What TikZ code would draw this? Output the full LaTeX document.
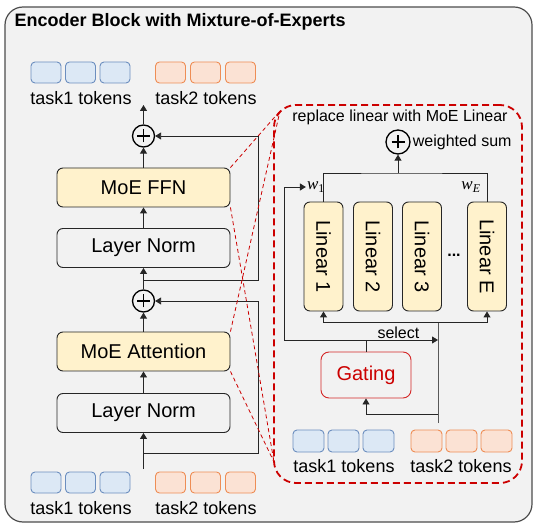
\RequirePackage{fix-cm}
\documentclass[tikz,border=0pt]{standalone}
\usepackage{fontspec}
\usepackage{graphicx}
\setmainfont{Liberation Sans}
\newfontfamily\weightfont{Liberation Serif}
\usetikzlibrary{arrows.meta,calc}

\definecolor{bgGray}{HTML}{F2F2F2}
\definecolor{frameGray}{HTML}{4D4D4D}
\definecolor{moeYellow}{HTML}{FFF2CC}
\definecolor{tokBlueFill}{HTML}{DCE8F5}
\definecolor{tokBlueLine}{HTML}{6C8EBF}
\definecolor{tokOrangeFill}{HTML}{FBE2D4}
\definecolor{tokOrangeLine}{HTML}{EE8D55}
\definecolor{moeRed}{HTML}{CC0000}

\begin{document}
\begin{tikzpicture}[
  x=1pt, y=-1pt,
  every node/.style={font=\fontsize{18}{21}\selectfont},
  block/.style={draw=black!85, rounded corners=6pt, line width=0.9pt, minimum width=173pt, minimum height=39pt, font=\fontsize{20}{24}\selectfont},
  moe/.style={block, fill=moeYellow},
  norm/.style={block, fill=bgGray},
  expert/.style={draw=black!85, fill=moeYellow, rounded corners=6pt, line width=0.9pt, minimum width=39pt, minimum height=109pt, inner sep=0pt, font=\fontsize{20}{24}\selectfont},
  gate/.style={draw=moeRed!85, text=moeRed, rounded corners=8pt, line width=0.9pt, minimum width=90pt, minimum height=46pt, font=\fontsize{20}{24}\selectfont},
  tokA/.style={draw=tokBlueLine, fill=tokBlueFill, rounded corners=4pt, line width=0.9pt, minimum width=30pt, minimum height=21pt, inner sep=0pt},
  tokB/.style={tokA, draw=tokOrangeLine, fill=tokOrangeFill},
  oplus/.style={circle, draw, line width=1.3pt, minimum size=22pt, inner sep=0pt,
    path picture={\draw[line width=1.3pt] ([xshift=-6.5pt]path picture bounding box.center) -- ([xshift=6.5pt]path picture bounding box.center)
      ([yshift=-6.5pt]path picture bounding box.center) -- ([yshift=6.5pt]path picture bounding box.center);}},
  wire/.style={draw=black!85, line width=0.9pt},
  arrow/.style={wire, -{Triangle[length=6pt,width=7pt]}},
  zoomline/.style={draw=moeRed, line width=0.8pt, dash pattern=on 4pt off 3pt},
  small/.style={font=\fontsize{16}{19}\selectfont},
  weight/.style={font=\weightfont\itshape\fontsize{17}{20}\selectfont, inner sep=1pt}
]
\useasboundingbox (0,0) rectangle (541,529);

% Outer block
\draw[draw=frameGray, fill=bgGray, line width=1.2pt, rounded corners=18pt] (5,7) rectangle (532,522);
\node[anchor=west, font=\bfseries\fontsize{18}{21}\selectfont] (title) at (11,22) {Encoder Block with Mixture-of-Experts};

% Token rows
\foreach \i in {1,...,3} {
  \node[tokA] (outA\i) at ({46+34.5*(\i-1)},72.5) {};
  \node[tokB] (outB\i) at ({170.5+35*(\i-1)},72.5) {};
  \node[tokA] (inA\i) at ({46+34.5*(\i-1)},482.5) {};
  \node[tokB] (inB\i) at ({170.5+35*(\i-1)},482.5) {};
  \node[tokA, minimum width=31pt, minimum height=22pt] (gA\i) at ({308.5+35*(\i-1)},441) {};
  \node[tokB, minimum width=31pt, minimum height=22pt] (gB\i) at ({426.5+35*(\i-1)},441) {};
}
\node (outAlab) at (81,98) {task1 tokens};
\node (outBlab) at (206,98) {task2 tokens};
\node (inAlab) at (81,508) {task1 tokens};
\node (inBlab) at (206,508) {task2 tokens};
\node (gAlab) at (344,466) {task1 tokens};
\node (gBlab) at (461,466) {task2 tokens};

% Encoder column
\node[norm] (ln1) at (143.5,413) {Layer Norm};
\node[moe] (attn) at (143.5,351.5) {MoE Attention};
\node[oplus] (add1) at (143.5,301) {};
\node[norm] (ln2) at (143.5,248) {Layer Norm};
\node[moe] (ffn) at (143.5,187.5) {MoE FFN};
\node[oplus] (add2) at (143.5,136) {};
\coordinate (in) at (143.5,469);
\coordinate (out) at (143.5,105);
\coordinate (res1) at (143.5,453);
\coordinate (res2) at (143.5,280);

\draw[arrow] (in) -- (ln1);
\draw[arrow] (ln1) -- (attn);
\draw[arrow] (attn) -- (add1);
\draw[arrow] (add1) -- (ln2);
\draw[arrow] (ln2) -- (ffn);
\draw[arrow] (ffn) -- (add2);
\draw[arrow] (add2) -- (out);

% Residual paths
\draw[arrow] (res1) -- ++(114.5,0) |- (add1);
\draw[arrow] (res2) -- ++(114.5,0) |- (add2);

% MoE linear detail
\node[draw=moeRed, line width=1.8pt, dash pattern=on 7pt off 4pt, rounded corners=22pt, minimum width=248pt, minimum height=378pt] (zoom) at (398,294) {};
\coordinate (zoomTop) at (280,111);
\coordinate (zoomBot) at (274,462);
\draw[zoomline] (ffn.north east) -- (zoomTop);
\draw[zoomline] (attn.north east) -- (zoomTop);
\draw[zoomline] (ffn.south east) -- (zoomBot);
\draw[zoomline] (attn.south east) -- (zoomBot);

\node[small] (zoomlab) at (400,117) {replace linear with MoE Linear};
\node[oplus, minimum size=24pt] (wsum) at (398,142) {};
\node[small, anchor=west, inner sep=2pt] (wsumlab) at (wsum.east) {weighted sum};

\foreach \n/\x/\t in {e1/323.5/1, e2/373/2, e3/422/3, eE/487/E}
  \node[expert] (\n) at (\x,256.5) {\rotatebox{-90}{Linear \t}};
\node[font=\bfseries\fontsize{16}{19}\selectfont] (dots) at (454,255) {...};

\node[weight] (w1) at (316,187) {w\textsubscript{\upshape 1}};
\node[weight] (wE) at (471,187) {w\textsubscript{E}};

\coordinate (mergeT) at (398,173);
\draw[wire] (e1.north) |- (mergeT) -| (eE.north);
\draw[arrow] (mergeT) -- (wsum);

% Gating and selection
\node[gate] (gate) at (366,375) {Gating};
\coordinate (selJ) at (366,340);
\coordinate (selEnd) at (438,340);
\coordinate (dispT) at (438,322);
\coordinate (dispB) at (438,423);
\coordinate (gateIn) at (438,414);

\draw[wire] (gate) -- (selJ);
\draw[arrow] (selJ) -- (selEnd) node[small, pos=0.45, above=-2pt] (sellab) {select};
\draw[arrow] (selJ) -- ++(-82,0) |- (w1);
\draw[wire, draw=black!65] (dispB) -- (dispT);
\draw[arrow] (dispT) -| (e1.south);
\draw[arrow] (dispT) -| (eE.south);
\draw[arrow] (gateIn) -| (gate.south);

\end{tikzpicture}
\end{document}
